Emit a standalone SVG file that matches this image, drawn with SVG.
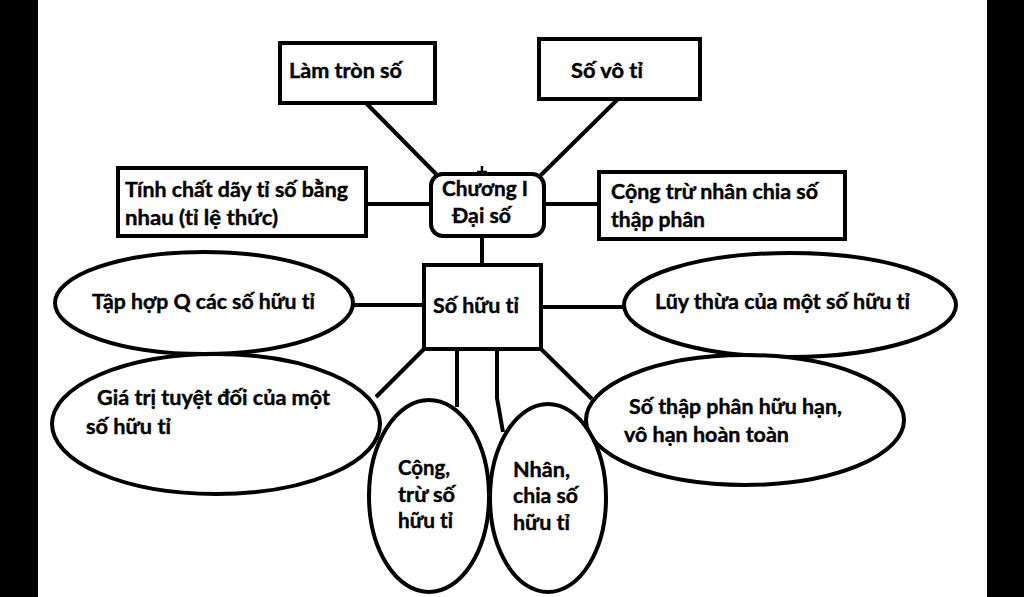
<svg xmlns="http://www.w3.org/2000/svg" width="1024" height="597" viewBox="0 0 1024 597">
<style>
.shape{fill:#fff;stroke:#000;stroke-width:4}
.link{fill:none;stroke:#000;stroke-width:4}
text{font-family:Lato,"Open Sans","Liberation Sans",sans-serif;font-weight:bold;font-size:21px;fill:#000;stroke:#000;stroke-width:0.4}
</style>
<rect x="0" y="0" width="1024" height="597" fill="#000"/>
<rect x="38" y="0" width="949" height="597" fill="#fff"/>
<g id="connectors">
<line class="link" x1="366" y1="103" x2="438" y2="176"/>
<line class="link" x1="618" y1="99" x2="540" y2="176"/>
<line class="link" x1="366" y1="204" x2="431" y2="204"/>
<line class="link" x1="544" y1="204" x2="599" y2="204"/>
<line class="link" x1="482" y1="236" x2="482" y2="265"/>
<line class="link" x1="353" y1="305" x2="424" y2="305"/>
<line class="link" x1="541" y1="307" x2="624" y2="307"/>
<line class="link" x1="424" y1="349" x2="376" y2="397"/>
<line class="link" x1="457" y1="349" x2="457" y2="407"/>
<polyline class="link" points="497,349 497,398 503,432"/>
<line class="link" x1="541" y1="349" x2="592" y2="399"/>
<path class="link" d="M482 166 V176 M477 172 H487" style="stroke-width:2.5"/>
</g>
<g id="lam-tron-so">
<rect class="shape" x="280" y="43" width="155" height="60"/>
<text x="289" y="78" textLength="113" lengthAdjust="spacingAndGlyphs">Làm tròn số</text>
</g>
<g id="so-vo-ti">
<rect class="shape" x="539" y="39" width="161" height="60"/>
<text x="571" y="78" textLength="72" lengthAdjust="spacingAndGlyphs">Số vô tỉ</text>
</g>
<g id="tinh-chat">
<rect class="shape" x="118" y="168" width="248" height="68"/>
<text x="125" y="197" textLength="223" lengthAdjust="spacingAndGlyphs">Tính chất dãy tỉ số bằng</text>
<text x="125" y="225" textLength="153" lengthAdjust="spacingAndGlyphs">nhau (tỉ lệ thức)</text>
</g>
<g id="chuong-1">
<rect class="shape" x="431" y="174" width="113" height="62" rx="12" ry="12"/>
<text x="442" y="196" textLength="86" lengthAdjust="spacingAndGlyphs">Chương I</text>
<text x="452" y="223" textLength="59" lengthAdjust="spacingAndGlyphs">Đại số</text>
</g>
<g id="cong-tru-thap-phan">
<rect class="shape" x="599" y="172" width="246" height="67"/>
<text x="611" y="199" textLength="207" lengthAdjust="spacingAndGlyphs">Cộng trừ nhân chia số</text>
<text x="611" y="227" textLength="94" lengthAdjust="spacingAndGlyphs">thập phân</text>
</g>
<g id="so-huu-ti">
<rect class="shape" x="424" y="265" width="117" height="84"/>
<text x="433" y="313" textLength="86" lengthAdjust="spacingAndGlyphs">Số hữu tỉ</text>
</g>
<g id="tap-hop-q">
<ellipse class="shape" cx="204" cy="303" rx="149" ry="51"/>
<text x="92" y="309" textLength="223" lengthAdjust="spacingAndGlyphs">Tập hợp Q các số hữu tỉ</text>
</g>
<g id="luy-thua">
<ellipse class="shape" cx="790" cy="305" rx="166" ry="52"/>
<text x="655" y="309" textLength="255" lengthAdjust="spacingAndGlyphs">Lũy thừa của một số hữu tỉ</text>
</g>
<g id="gia-tri-tuyet-doi">
<ellipse class="shape" cx="216" cy="424" rx="164" ry="70"/>
<text x="97" y="405" textLength="233" lengthAdjust="spacingAndGlyphs">Giá trị tuyệt đối của một</text>
<text x="86" y="434" textLength="85" lengthAdjust="spacingAndGlyphs">số hữu tỉ</text>
</g>
<g id="so-thap-phan">
<ellipse class="shape" cx="745" cy="420" rx="159" ry="65"/>
<text x="629" y="414" textLength="213" lengthAdjust="spacingAndGlyphs">Số thập phân hữu hạn,</text>
<text x="624" y="442" textLength="165" lengthAdjust="spacingAndGlyphs">vô hạn hoàn toàn</text>
</g>
<g id="cong-tru">
<ellipse class="shape" cx="429" cy="496" rx="60" ry="96"/>
<text x="398" y="475" textLength="52" lengthAdjust="spacingAndGlyphs">Cộng,</text>
<text x="398" y="502" textLength="57" lengthAdjust="spacingAndGlyphs">trừ số</text>
<text x="398" y="528" textLength="55" lengthAdjust="spacingAndGlyphs">hữu tỉ</text>
</g>
<g id="nhan-chia">
<ellipse class="shape" cx="548" cy="498" rx="58" ry="94"/>
<text x="513" y="477" textLength="57" lengthAdjust="spacingAndGlyphs">Nhân,</text>
<text x="513" y="503" textLength="65" lengthAdjust="spacingAndGlyphs">chia số</text>
<text x="513" y="530" textLength="57" lengthAdjust="spacingAndGlyphs">hữu tỉ</text>
</g>
</svg>
